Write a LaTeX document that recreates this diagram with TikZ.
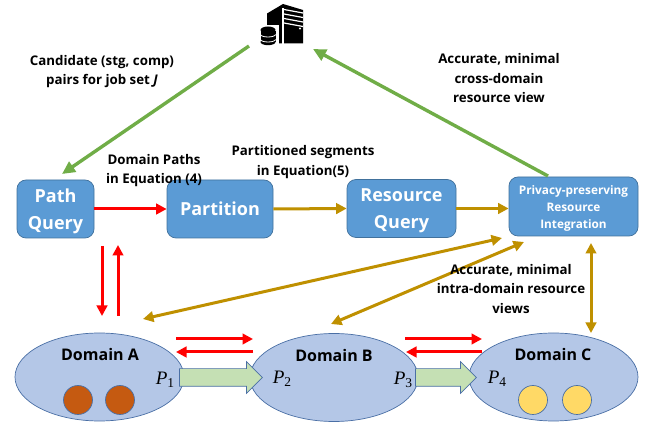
\documentclass[tikz,border=0pt]{standalone}
\usepackage{fontspec}
\setmainfont{Open Sans}
\newfontfamily\pfont{Liberation Serif}
\usetikzlibrary{arrows.meta,shapes.arrows,shapes.geometric}
\definecolor{boxb}{HTML}{5B9BD5}
\definecolor{boxe}{HTML}{41719C}
\definecolor{ell}{HTML}{B4C7E7}
\definecolor{elle}{HTML}{4A6FA5}
\definecolor{redl}{HTML}{FF0000}
\definecolor{goldl}{HTML}{BF9000}
\definecolor{greenl}{HTML}{70AD47}
\definecolor{blockf}{HTML}{C5E0B4}
\definecolor{orangec}{HTML}{C55A11}
\definecolor{yellowc}{HTML}{FFD966}
\newcommand{\plabel}[1]{{\pfont\fontsize{19}{19}\selectfont\itshape P\raisebox{-3.5pt}{\fontsize{13.5}{13.5}\selectfont\upshape #1}}}
\tikzset{
  x=1pt,y=-1pt,
  proc/.style={draw=boxe,fill=boxb,rounded corners=9pt,text=white,align=center,inner sep=0pt,line width=0.7pt},
  bigtext/.style={font=\fontsize{18}{27}\selectfont\bfseries},
  dom/.style={ellipse,draw=elle,fill=ell,line width=0.7pt,inner sep=0pt},
  token/.style={circle,draw=elle,inner sep=0pt,minimum size=29pt,line width=0.7pt},
  blockarr/.style={draw=elle,fill=blockf,line width=0.7pt,single arrow,single arrow head extend=7pt,single arrow tip angle=90,inner xsep=0pt,inner ysep=8.5pt,minimum width=31pt},
  lab/.style={font=\fontsize{13.3}{19.5}\selectfont\bfseries,align=center,text=black,inner sep=0pt},
  domlab/.style={font=\fontsize{16}{17}\selectfont\bfseries,inner sep=0pt},
  plab/.style={inner sep=0pt},
  redarr/.style={draw=redl,line width=3pt,-{Triangle[length=10.5pt,width=10.5pt]}},
  goldarr/.style={draw=goldl,line width=3pt,-{Triangle[length=10.5pt,width=10.5pt]}},
  goldtwo/.style={draw=goldl,line width=3pt,{Triangle[length=10.5pt,width=10.5pt]}-{Triangle[length=10.5pt,width=10.5pt]}},
  greenarr/.style={draw=greenl,line width=3.4pt,-{Triangle[length=13pt,width=12pt]}},
}
\begin{document}
\begin{tikzpicture}
\useasboundingbox (0,0) rectangle (646,427);
% boxes
\node[proc,bigtext,minimum width=77pt,minimum height=58pt] (pq) at (55.5,209) {\rule{0pt}{18pt}Path\\Query};
\node[proc,bigtext,minimum width=106pt,minimum height=58pt] (part) at (220,209) {Partition};
\node[proc,bigtext,minimum width=109pt,minimum height=58pt] (rq) at (401.5,208.5) {\rule{0pt}{18pt}Resource\\Query};
\node[proc,minimum width=129pt,minimum height=59pt,font=\fontsize{11.8}{17}\selectfont\bfseries] (pr) at (573.5,206.5) {\rule{0pt}{12pt}Privacy-preserving\\Resource\\Integration};
% domains
\node[dom,minimum width=169pt,minimum height=88pt] (da) at (99.5,377) {};
\node[dom,minimum width=168pt,minimum height=88pt] (db) at (334,377.5) {};
\node[dom,minimum width=169pt,minimum height=88pt] (dc) at (553.5,377) {};
\node[domlab] (la) at (100,355) {Domain A};
\node[domlab] (lb) at (334,356) {Domain B};
\node[domlab] (lc) at (553,355) {Domain C};
\node[token,fill=orangec] (c1) at (78,400) {};
\node[token,fill=orangec] (c2) at (120,400) {};
\node[token,fill=yellowc] (c3) at (533,400) {};
\node[token,fill=yellowc] (c4) at (577,400) {};
% block arrows
\node[blockarr,minimum height=83pt] (ba1) at (216.5,377.5) {};
\node[blockarr,minimum height=61pt] (ba2) at (441.5,377.5) {};
\node[plab] (p1) at (165,380) {\plabel{1}};
\node[plab] (p2) at (282,379) {\plabel{2}};
\node[plab] (p3) at (403,380) {\plabel{3}};
\node[plab] (p4) at (497,379) {\plabel{4}};
% server icon
\fill[black] (267,13.5) -- (283,4) -- (303,10) -- (303,43.5) -- (284,43.5) -- (277,43.5) -- (277,30) -- (267,27) -- cycle;
\fill[white] (281.8,8) rectangle (283.6,44);
\foreach \yy in {9.5,14,18.5,23} \draw[white,line width=1.2pt] (284,\yy) -- (303,\yy+3.5);
\fill[white] (300,28.5) circle (1.1pt);
\fill[white] (258,25) rectangle (279,47);
\fill[black] (260.5,31) rectangle (275.5,42);
\fill[black] (268,42) ellipse (7.5 and 3.2);
\fill[black] (268,30) ellipse (7.5 and 3.5);
\draw[white,line width=0.8pt] (260.5,34.5) arc[start angle=180,end angle=360,x radius=7.5,y radius=-2.5];
\draw[white,line width=0.8pt] (260.5,39.5) arc[start angle=180,end angle=360,x radius=7.5,y radius=-2.5];
% free ends
\coordinate (g1a) at (249,46);
\coordinate (g1b) at (62,174);
\coordinate (g2a) at (548,176);
\coordinate (g2b) at (313,49);
\coordinate (r1a) at (102,246);
\coordinate (r1b) at (102,316);
\coordinate (r2a) at (118,316);
\coordinate (r2b) at (118,245);
\coordinate (r3a) at (176,339);
\coordinate (r3b) at (253,339);
\coordinate (r4a) at (253,352);
\coordinate (r4b) at (176,352);
\coordinate (r5a) at (405,339);
\coordinate (r5b) at (482,339);
\coordinate (r6a) at (482,352);
\coordinate (r6b) at (406,352);
\coordinate (y1a) at (143,319);
\coordinate (y1b) at (502,238);
\coordinate (y2a) at (331,324);
\coordinate (y2b) at (524,242);
\coordinate (y3a) at (591,243);
\coordinate (y3b) at (591,333);
% connectors
\draw[greenarr] (g1a) -- (g1b);
\draw[greenarr] (g2a) -- (g2b);
\draw[redarr] (pq.east) -- (part.west);
\draw[goldarr] (part.east) -- (rq.west);
\draw[goldarr] (rq.east) -- (rq.east -| pr.west);
\draw[redarr] (r1a) -- (r1b);
\draw[redarr] (r2a) -- (r2b);
\draw[redarr] (r3a) -- (r3b);
\draw[redarr] (r4a) -- (r4b);
\draw[redarr] (r5a) -- (r5b);
\draw[redarr] (r6a) -- (r6b);
\draw[goldtwo] (y1a) -- (y1b);
\draw[goldtwo] (y2a) -- (y2b);
\draw[goldtwo] (y3a) -- (y3b);
% labels
\node[lab] (t1) at (102,71.5) {Candidate (stg, comp)\\pairs for job set \textit{J}};
\node[lab] (t2) at (154,170.5) {Domain Paths\\in Equation (4)};
\node[lab] (t3) at (303,162) {Partitioned segments\\in Equation(5)};
\node[lab] (t4) at (499,78.5) {Accurate, minimal\\cross-domain\\resource view};
\node[lab] (t5) at (511,289) {Accurate, minimal\\intra-domain resource\\views};
\end{tikzpicture}
\end{document}
